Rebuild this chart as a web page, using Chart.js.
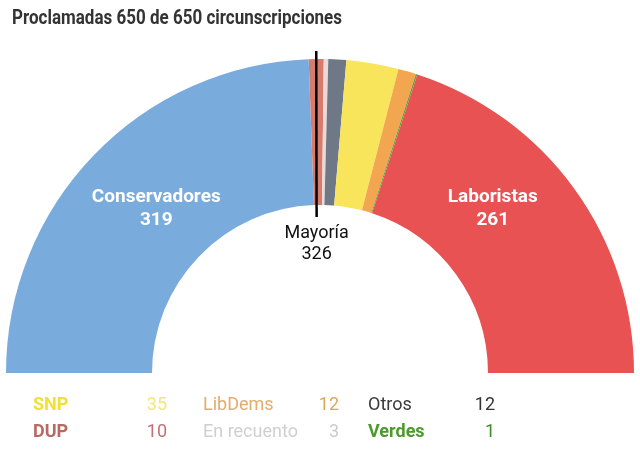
<!DOCTYPE html>
<html>
<head>
<meta charset="utf-8">
<script src="https://cdn.jsdelivr.net/npm/chart.js@4.4.0/dist/chart.umd.min.js"></script>
<style>
    html, body { margin: 0; padding: 0; background: #fff; }
    #wrap { width: 640px; height: 460px; position: relative; }
</style>
</head>
<body>
<div id="wrap"><canvas id="seatChart" width="640" height="460"></canvas></div>
<script>
const parties = ["Conservadores", "DUP", "En recuento", "Otros", "SNP", "LibDems", "Verdes", "Laboristas"];
const seats = [319, 10, 3, 12, 35, 12, 1, 261];
const colors = ["#79acdc", "#d77b6c", "#ead9d9", "#6f7886", "#f8e55b", "#f2a64f", "#62a63a", "#e85253"];
const majority = 326;
const title = "Proclamadas 650 de 650 circunscripciones";

// legend rows: [name, seats, text colour, number colour, bold]
const legendCols = [
    [["SNP", 35, "#f1e135", "#f3e682", true], ["DUP", 10, "#b86a62", "#c46f78", true]],
    [["LibDems", 12, "#e3ac6c", "#dca65e", false], ["En recuento", 3, "#cfcfcf", "#cccccc", false]],
    [["Otros", 12, "#3a3a3a", "#333333", false], ["Verdes", 1, "#4c9a2c", "#3f8a2a", true]]
];

const overlay = {
    id: "overlay",
    afterDraw(chart) {
        const ctx = chart.ctx;
        const meta = chart.getDatasetMeta(0);
        const arc0 = meta.data[0];
        const total = seats.reduce((a, b) => a + b, 0);
        const cx = arc0.x, cy = arc0.y;

        ctx.save();

        // title (condensed look: squeeze horizontally)
        ctx.fillStyle = "#333";
        ctx.font = "bold 20px Roboto, sans-serif";
        ctx.textAlign = "left";
        ctx.textBaseline = "middle";
        const tw = ctx.measureText(title).width;
        ctx.save();
        ctx.translate(12, 19);
        ctx.scale(330 / tw, 1);
        ctx.fillText(title, 0, 0);
        ctx.restore();

        // big labels for the two main parties, placed symmetrically in the ring
        ctx.fillStyle = "#fff";
        ctx.font = "bold 19px Roboto, sans-serif";
        ctx.textAlign = "center";
        const rLab = (arc0.innerRadius + arc0.outerRadius) / 2 - 8;
        [[0, -3 * Math.PI / 4, 1], [seats.length - 1, -Math.PI / 4, 8]].forEach(([i, a, dx]) => {
            const px = cx + Math.cos(a) * rLab + dx;
            const py = cy + Math.sin(a) * rLab;
            ctx.fillText(parties[i], px, py - 11);
            ctx.fillText(String(seats[i]), px, py + 12);
        });

        // majority line
        const ang = Math.PI + Math.PI * majority / total;
        const rIn = arc0.innerRadius - 12;
        const rOut = arc0.outerRadius + 8;
        ctx.strokeStyle = "#000";
        ctx.lineWidth = 2.5;
        ctx.beginPath();
        ctx.moveTo(cx + Math.cos(ang) * rIn - 3, cy + Math.sin(ang) * rIn);
        ctx.lineTo(cx + Math.cos(ang) * rOut - 3, cy + Math.sin(ang) * rOut);
        ctx.stroke();

        ctx.fillStyle = "#111";
        ctx.font = "18px Roboto, sans-serif";
        const mx = cx + Math.cos(ang) * rIn - 3;
        ctx.fillText("Mayoría", mx, cy - arc0.innerRadius + 28);
        ctx.fillText(String(majority), mx, cy - arc0.innerRadius + 49);

        // legend
        const colX = [[33, 167], [203, 339], [368, 495]];
        const rowY = [405, 432];
        legendCols.forEach((col, c) => {
            col.forEach((row, r) => {
                ctx.font = (row[4] ? "bold " : "") + "18px Roboto, sans-serif";
                ctx.textAlign = "left";
                ctx.fillStyle = row[2];
                ctx.fillText(row[0], colX[c][0], rowY[r]);
                ctx.font = "18px Roboto, sans-serif";
                ctx.textAlign = "right";
                ctx.fillStyle = row[3];
                ctx.fillText(String(row[1]), colX[c][1], rowY[r]);
            });
        });

        ctx.restore();
    }
};

new Chart(document.getElementById("seatChart"), {
    type: "doughnut",
    data: {
        labels: parties,
        datasets: [{
            data: seats,
            backgroundColor: colors,
            borderWidth: 0,
            hoverOffset: 0
        }]
    },
    options: {
        responsive: false,
        animation: false,
        rotation: -90,
        circumference: 180,
        cutout: "53.5%",
        layout: {
            padding: { top: 59, bottom: 87, left: 6, right: 6 }
        },
        plugins: {
            legend: { display: false },
            tooltip: { enabled: false },
            title: { display: false }
        }
    },
    plugins: [overlay]
});
</script>
</body>
</html>
